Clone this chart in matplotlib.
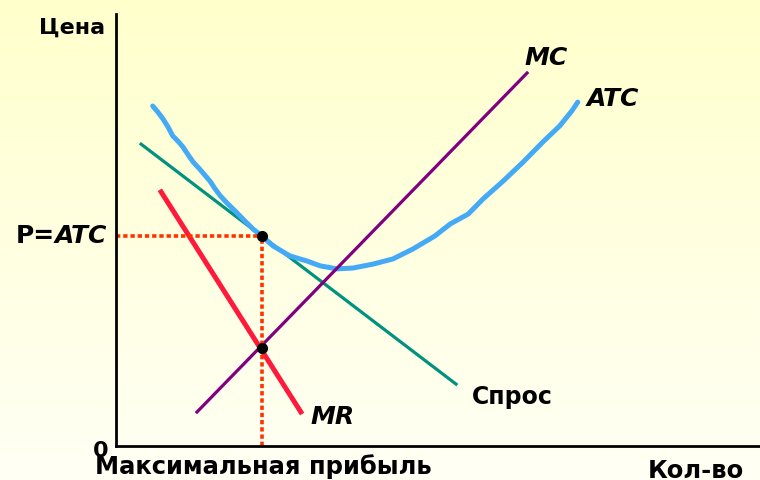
import numpy as np
import matplotlib
matplotlib.use('Agg')
import matplotlib.pyplot as plt

# demand, MR and MC are straight lines (end points, in chart units)
demand_q = [0.37, 5.30]
demand_p = [7.01, 1.41]
mr_q = [0.68, 2.89]
mr_p = [5.93, 0.74]
mc_q = [1.24, 6.40]
mc_p = [0.76, 8.66]

# ATC curve (hand drawn, a bit wavy)
atc_q = [0.57, 0.65, 0.73, 0.81, 0.88, 0.96, 1.04, 1.12, 1.20, 1.30, 1.46, 1.54,
         1.62, 1.74, 1.85, 2.00, 2.13, 2.25, 2.44, 2.70, 2.97, 3.17, 3.43, 3.68,
         3.99, 4.30, 4.61, 4.95, 5.19, 5.47, 5.70, 6.01, 6.32, 6.63, 6.89, 7.08, 7.17]
atc_p = [7.87, 7.73, 7.57, 7.38, 7.18, 7.06, 6.92, 6.74, 6.57, 6.41, 6.13, 5.95,
         5.79, 5.60, 5.44, 5.21, 5.02, 4.88, 4.63, 4.40, 4.28, 4.17, 4.10, 4.12,
         4.21, 4.33, 4.56, 4.86, 5.14, 5.37, 5.72, 6.13, 6.57, 7.04, 7.41, 7.76, 7.96]

# profit maximising point
q_opt = 2.27
p_opt = 4.86
mr_opt = 2.27

W, H = 760, 481
fig = plt.figure(figsize=(W / 100, H / 100), dpi=100)

# light yellow gradient background
bg = fig.add_axes([0, 0, 1, 1], zorder=0)
grad = np.linspace(0, 1, 256).reshape(-1, 1)
top = np.array([1.0, 1.0, 0.80])
bot = np.array([1.0, 1.0, 0.96])
img = top[None, None, :] * (1 - grad[:, :, None]) + bot[None, None, :] * grad[:, :, None]
bg.imshow(img, aspect='auto', extent=[0, 1, 0, 1])
bg.axis('off')

x0, y0 = 116 / W, (H - 447) / H
ax = fig.add_axes([x0, y0, (W - 116) / W, (447 - 15) / H], zorder=1)
ax.patch.set_alpha(0)
ax.set_xlim(0, 10)
ax.set_ylim(0, 10)
for s in ['top', 'right']:
    ax.spines[s].set_visible(False)
for s in ['left', 'bottom']:
    ax.spines[s].set_linewidth(2.0)
    ax.spines[s].set_color('black')
ax.set_xticks([])
ax.set_yticks([])

ax.plot(demand_q, demand_p, color='#00927F', lw=2.3, solid_capstyle='butt')
ax.plot(atc_q, atc_p, color='#44AAF5', lw=3.6, solid_joinstyle='round',
        solid_capstyle='round')
ax.plot(mc_q, mc_p, color='#800080', lw=2.3, solid_capstyle='butt')
ax.plot(mr_q, mr_p, color='#FF1A3C', lw=3.6, solid_capstyle='butt')

dot = dict(color='#FF3300', lw=2.6, dashes=(1.2, 0.8), dash_capstyle='butt',
           clip_on=False)
ax.plot([0, q_opt], [p_opt, p_opt], **dot)
ax.plot([q_opt, q_opt], [0, p_opt], **dot)
ax.plot([q_opt, q_opt], [p_opt, mr_opt], 'o', color='black', ms=7, zorder=5)

font = dict(fontweight='bold', family='DejaVu Sans')
ital = dict(fontsize=18, style='italic', **font)
ax.text(6.68, 9.0, 'MC', ha='center', va='center', **ital)
ax.text(7.31, 8.05, 'ATC', ha='left', va='center', **ital)
ax.text(5.53, 1.16, 'Спрос', ha='left', va='center', fontsize=17, **font)
ax.text(3.37, 0.70, 'MR', ha='center', va='center', **ital)

fig.text(105 / W, 1 - 28 / H, 'Цена', ha='right', va='center', fontsize=16, **font)
atc_lbl = fig.text(107 / W, 1 - 236 / H, 'ATC', ha='right', va='center', **ital)
ax.annotate('P=', xy=(0, 0.5), xycoords=atc_lbl, ha='right', va='center',
            fontsize=18, **font)
fig.text(101 / W, 1 - 451 / H, '0', ha='center', va='center', fontsize=16, **font)
fig.text(95 / W, 1 - 467 / H, 'Максимальная прибыль', ha='left', va='center',
         fontsize=17.5, **font)
fig.text(696 / W, 1 - 471 / H, 'Кол-во', ha='center', va='center', fontsize=17.5, **font)

fig.savefig('out.png', dpi=100)
